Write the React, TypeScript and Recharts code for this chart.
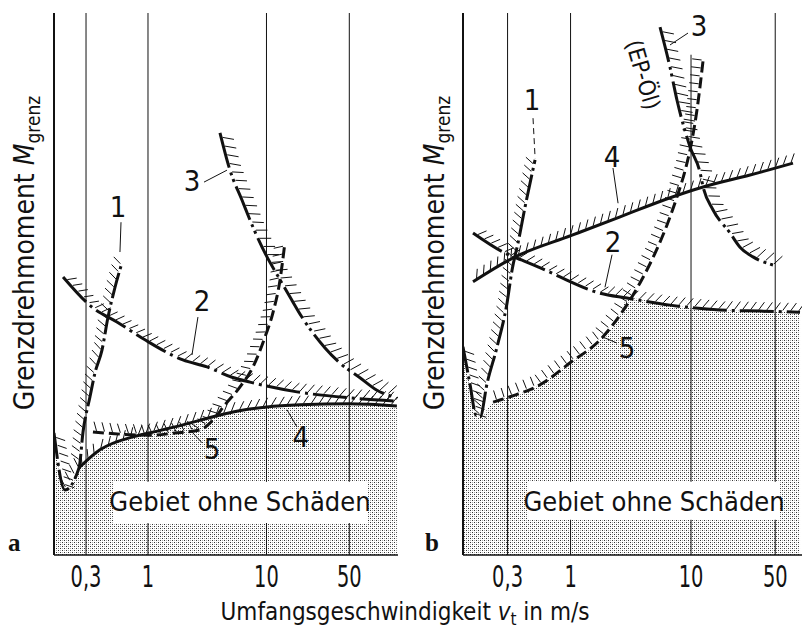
import React from "react";
import {
  ComposedChart,
  Line,
  Area,
  XAxis,
  YAxis,
  ReferenceLine,
  ReferenceArea,
  ReferenceDot,
} from "recharts";

const NARROW = '"Liberation Sans Narrow", "DejaVu Sans Condensed", "Arial Narrow", sans-serif';
const SERIF = '"Liberation Serif", "DejaVu Serif", serif';
const INK = "#111";

type P = { v: number; m: number };
type XY = { x: number; y: number };

// speed axis ticks (m/s), log scale
const speedTicks = [0.3, 1, 10, 50];

// --- Bild a: v_t in m/s, M_grenz in % of axis height ---
const a1: P[] = [
  { v: 0.161, m: 22.5 }, { v: 0.199, m: 12.0 }, { v: 0.262, m: 16.1 }, { v: 0.283, m: 22.7 },
  { v: 0.324, m: 29.2 }, { v: 0.357, m: 33.6 }, { v: 0.409, m: 37.8 }, { v: 0.46, m: 43.9 },
  { v: 0.527, m: 49.4 }, { v: 0.603, m: 53.9 },
];
const a2: P[] = [
  { v: 0.192, m: 51.3 }, { v: 0.343, m: 45.6 }, { v: 0.547, m: 43.0 }, { v: 0.943, m: 39.7 },
  { v: 1.97, m: 36.0 }, { v: 3.15, m: 34.7 }, { v: 5.12, m: 32.8 }, { v: 7.26, m: 31.9 },
  { v: 18.1, m: 30.1 }, { v: 50.6, m: 29.0 }, { v: 126, m: 28.4 },
];
const a3: P[] = [
  { v: 4.05, m: 77.9 }, { v: 4.92, m: 71.0 }, { v: 6.21, m: 65.5 }, { v: 7.69, m: 60.5 },
  { v: 10.1, m: 55.0 }, { v: 12.3, m: 51.7 }, { v: 15.8, m: 47.6 }, { v: 19.9, m: 43.9 },
  { v: 31.2, m: 38.2 }, { v: 41.7, m: 35.4 }, { v: 61.5, m: 32.7 }, { v: 85.6, m: 30.4 },
  { v: 117, m: 29.2 },
];
const a4: P[] = [
  { v: 0.262, m: 16.1 }, { v: 0.393, m: 19.4 }, { v: 0.747, m: 21.8 }, { v: 1.02, m: 22.5 },
  { v: 1.97, m: 24.0 }, { v: 3.54, m: 25.5 }, { v: 5.22, m: 26.4 }, { v: 10.1, m: 27.3 },
  { v: 19.2, m: 27.7 }, { v: 49.7, m: 27.9 }, { v: 126, m: 27.5 },
];
const a5: P[] = [
  { v: 0.343, m: 22.7 }, { v: 0.58, m: 22.3 }, { v: 1.04, m: 22.1 }, { v: 1.69, m: 22.5 },
  { v: 2.75, m: 23.1 }, { v: 3.54, m: 24.9 }, { v: 4.46, m: 27.7 }, { v: 5.98, m: 31.0 },
  { v: 7.69, m: 34.7 }, { v: 9.71, m: 40.2 }, { v: 11.3, m: 44.6 }, { v: 13.0, m: 50.7 },
  { v: 14.3, m: 57.6 },
];

// --- Bild b ---
const b1: P[] = [
  { v: 0.128, m: 38.4 }, { v: 0.1466, m: 31.4 }, { v: 0.164, m: 25.8 }, { v: 0.1774, m: 25.5 },
  { v: 0.203, m: 31.7 }, { v: 0.2455, m: 38.4 }, { v: 0.297, m: 46.5 }, { v: 0.327, m: 52.6 },
  { v: 0.3667, m: 57.6 }, { v: 0.419, m: 64.2 }, { v: 0.5075, m: 72.9 },
];
const b2: P[] = [
  { v: 0.155, m: 59.4 }, { v: 0.286, m: 55.7 }, { v: 0.396, m: 54.4 }, { v: 0.614, m: 52.6 },
  { v: 0.818, m: 51.3 }, { v: 1.76, m: 48.3 }, { v: 2.94, m: 47.4 }, { v: 6.69, m: 46.1 },
  { v: 17.4, m: 45.2 }, { v: 37.4, m: 45.0 }, { v: 80.3, m: 44.8 },
];
const b3: P[] = [
  { v: 5.53, m: 97.4 }, { v: 6.69, m: 90.0 }, { v: 7.65, m: 83.9 }, { v: 9.81, m: 75.3 },
  { v: 11.9, m: 70.5 }, { v: 12.6, m: 67.9 }, { v: 15.2, m: 63.7 }, { v: 21.1, m: 59.4 },
  { v: 25.5, m: 56.8 }, { v: 32.7, m: 55.0 }, { v: 47.9, m: 53.5 },
];
const b4: P[] = [
  { v: 0.155, m: 50.4 }, { v: 0.333, m: 54.8 }, { v: 1.03, m: 59.0 }, { v: 2.58, m: 62.4 },
  { v: 7.09, m: 66.1 }, { v: 12.6, m: 67.9 }, { v: 30.9, m: 70.1 }, { v: 70.2, m: 72.3 },
];
const b5: P[] = [
  { v: 0.2275, m: 28.2 }, { v: 0.3147, m: 29.2 }, { v: 0.558, m: 31.4 }, { v: 1.01, m: 35.6 },
  { v: 1.76, m: 39.7 }, { v: 2.58, m: 44.3 }, { v: 3.77, m: 50.2 }, { v: 5.03, m: 55.7 },
  { v: 6.32, m: 60.9 }, { v: 7.65, m: 66.1 }, { v: 9.09, m: 71.6 }, { v: 10.2, m: 76.6 },
  { v: 11.2, m: 82.1 }, { v: 12.6, m: 91.3 },
];

// "Gebiet ohne Schäden" = below the lower envelope
const shadeA = [...a1.slice(0, 3), ...a4.slice(1)];
const shadeB = [...b1.slice(0, 4), ...b5.slice(0, 6), ...b2.slice(6)];

// curve numbers and leader lines (placement only)
const notesA = [
  { t: "1", v: 0.558, m: 64.2 }, { t: "2", v: 2.86, m: 46.9 }, { t: "3", v: 2.35, m: 69.0 },
  { t: "4", v: 19.5, m: 21.8 }, { t: "5", v: 3.47, m: 19.6 },
];
const leadersA = [
  [0.592, 61.4, 0.58, 55.9], [2.64, 43.9, 2.35, 36.9], [2.97, 68.8, 4.64, 71.0],
  [18.1, 23.6, 14.9, 26.8], [2.86, 20.7, 2.26, 23.1],
];
const notesB = [
  { t: "1", v: 0.479, m: 83.9 }, { t: "2", v: 2.25, m: 57.7 }, { t: "3", v: 11.65, m: 97.6 },
  { t: "4", v: 2.21, m: 73.4 }, { t: "5", v: 2.94, m: 38.2 },
];
const leadersB = [
  [0.488, 80.6, 0.508, 73.2], [2.21, 55.4, 1.93, 49.4], [9.44, 96.3, 6.69, 94.1],
  [2.25, 71.4, 2.48, 64.9], [2.43, 39.1, 1.86, 40.2],
];

const fmt = (v: number) => String(v).replace(".", ",");

function hatchLines(pts: XY[], tilt: number, len: number, step: number) {
  const out: React.ReactElement[] = [];
  const a = (tilt * Math.PI) / 180;
  let carry = step / 2;
  for (let i = 1; i < pts.length; i++) {
    const p0 = pts[i - 1];
    const p1 = pts[i];
    if (!p0 || !p1) continue;
    const dx = p1.x - p0.x;
    const dy = p1.y - p0.y;
    const L = Math.hypot(dx, dy);
    if (L < 0.01) continue;
    const tx = dx / L;
    const ty = dy / L;
    // left of travel direction (= above for a curve running right)
    const vx = ty * Math.cos(a) + tx * Math.sin(a);
    const vy = -tx * Math.cos(a) + ty * Math.sin(a);
    let d = carry;
    while (d < L) {
      const x = p0.x + tx * d;
      const y = p0.y + ty * d;
      out.push(
        <line key={`${i}-${d.toFixed(1)}`} x1={x + vx * 1.5} y1={y + vy * 1.5} x2={x + vx * len} y2={y + vy * len} />
      );
      d += step;
    }
    carry = d - L;
  }
  return out;
}

// dot renderer that draws the hatching once all points are known
const hatch = (count: number, tilt: number, len = 11, step = 8) => {
  const seen: XY[] = [];
  return (props: any) => {
    const { index, cx, cy } = props;
    seen[index] = { x: cx, y: cy };
    if (index !== count - 1) return <g key={`d${index}`} />;
    const pts: XY[] =
      Array.isArray(props.points) && props.points.length === count ? props.points : seen.slice(0, count);
    return (
      <g key="hatch" stroke={INK} strokeWidth={1}>
        {hatchLines(pts, tilt, len, step)}
      </g>
    );
  };
};

type Curve = { data: P[]; dash?: string; tilt: number; len?: number; step?: number };

const YTitle = ({ baseX, letter, letterX }: { baseX: number; letter: string; letterX: number }) => (
  <g>
    <text
      transform={`translate(${baseX},253) rotate(-90)`}
      textAnchor="middle"
      fontFamily={NARROW}
      fontSize={28}
      fill={INK}
    >
      {"Grenzdrehmoment "}
      <tspan fontStyle="italic">M</tspan>
      <tspan fontSize={19} dy={6}>grenz</tspan>
    </text>
    <text x={letterX} y={551} fontFamily={SERIF} fontWeight="bold" fontSize={25} fill={INK}>
      {letter}
    </text>
  </g>
);

const XTitle = () => (
  <text x={405} y={620} textAnchor="middle" fontFamily={NARROW} fontSize={24} fill={INK}>
    {"Umfangsgeschwindigkeit "}
    <tspan fontStyle="italic">v</tspan>
    <tspan fontSize={17} dy={5}>t</tspan>
    <tspan dy={-5}>{" in m/s"}</tspan>
  </text>
);

// tall, condensed tick digits
const SpeedTick = (props: any) => {
  const { x, y, payload } = props;
  return (
    <text
      transform={`translate(${x},${y}) scale(0.72,1)`}
      textAnchor="middle"
      dy="0.71em"
      fontFamily={NARROW}
      fontSize={30}
      fill={INK}
    >
      {fmt(payload.value)}
    </text>
  );
};

const BoxLabel = (props: any) => {
  const vb = props.viewBox || { x: 0, y: 0, width: 0, height: 0 };
  return (
    <text x={vb.x + vb.width / 2} y={vb.y + 29} textAnchor="middle" fontFamily={NARROW} fontSize={27} fill={INK}>
      Gebiet ohne Schäden
    </text>
  );
};

const Note = (props: any) => (
  <text
    x={props.cx}
    y={props.cy}
    transform={props.angle ? `rotate(${props.angle} ${props.cx} ${props.cy})` : undefined}
    textAnchor="middle"
    dominantBaseline="central"
    fontFamily={NARROW}
    fontSize={props.size || 29}
    fill={INK}
  >
    {props.text}
  </text>
);

type PanelProps = {
  id: string;
  left: number;
  right: number;
  yWidth: number;
  domain: [number, number];
  curves: Curve[];
  shade: P[];
  box: [number, number, number, number];
  grid: { v: number; segs: [number, number][] }[];
  notes: { t: string; v: number; m: number }[];
  leaders: number[][];
  dashedLeader?: number;
  letter: string;
  letterX: number;
  titleX: number;
  xTitle?: boolean;
  extra?: React.ReactNode;
};

function Panel(p: PanelProps) {
  return (
    <ComposedChart
      width={804}
      height={632}
      margin={{ top: 13, right: p.right, bottom: 0, left: p.left }}
      style={{ position: "absolute", left: 0, top: 0 }}
    >
      <defs>
        <pattern id={`dots-${p.id}`} width="4" height="4" patternUnits="userSpaceOnUse">
          <rect x="0" y="0" width="1" height="1" fill="#333" />
          <rect x="2" y="2" width="1" height="1" fill="#333" />
          <rect x="2" y="0" width="1" height="1" fill="#aaa" />
          <rect x="0" y="2" width="1" height="1" fill="#aaa" />
        </pattern>
      </defs>
      <XAxis
        dataKey="v"
        type="number"
        scale="log"
        domain={p.domain}
        allowDataOverflow
        ticks={speedTicks}
        interval={0}
        tickLine={false}
        tickSize={0}
        tickMargin={11}
        axisLine={{ stroke: INK, strokeWidth: 1.5 }}
        tick={<SpeedTick />}
        height={77}
        label={p.xTitle ? <XTitle /> : undefined}
      />
      <YAxis
        type="number"
        domain={[0, 100]}
        allowDataOverflow
        tick={false}
        tickLine={false}
        axisLine={{ stroke: INK, strokeWidth: 2 }}
        width={p.yWidth}
        label={<YTitle baseX={p.titleX} letter={p.letter} letterX={p.letterX} />}
      />
      <Area
        data={p.shade}
        dataKey="m"
        type="monotone"
        stroke="none"
        fill={`url(#dots-${p.id})`}
        fillOpacity={1}
        isAnimationActive={false}
        activeDot={false}
      />
      {p.grid.map((g) =>
        g.segs.map(([y0, y1], k) => (
          <ReferenceLine
            key={`g${g.v}-${k}`}
            segment={[{ x: g.v, y: y0 }, { x: g.v, y: y1 }]}
            stroke={INK}
            strokeWidth={1}
          />
        ))
      )}
      <ReferenceArea
        x1={p.box[0]}
        x2={p.box[1]}
        y1={p.box[2]}
        y2={p.box[3]}
        fill="#fff"
        fillOpacity={1}
        stroke="none"
        label={<BoxLabel />}
      />
      {p.curves.map((c, i) => (
        <Line
          key={`c${i}`}
          data={c.data}
          dataKey="m"
          type="monotone"
          stroke={INK}
          strokeWidth={3}
          strokeDasharray={c.dash}
          dot={hatch(c.data.length, c.tilt, c.len, c.step)}
          activeDot={false}
          isAnimationActive={false}
        />
      ))}
      {p.leaders.map((l, i) => (
        <ReferenceLine
          key={`l${i}`}
          segment={[{ x: l[0], y: l[1] }, { x: l[2], y: l[3] }]}
          stroke={INK}
          strokeWidth={1}
          strokeDasharray={p.dashedLeader === i ? "6 4" : undefined}
        />
      ))}
      {p.notes.map((n) => (
        <ReferenceDot
          key={`n${n.t}`}
          x={n.v}
          y={n.m}
          r={0}
          shape={(sp: any) => <Note {...sp} text={n.t} />}
        />
      ))}
      {p.extra}
    </ComposedChart>
  );
}

export default function App() {
  return (
    <div style={{ position: "absolute", left: 0, top: 0, width: 804, height: 632, background: "#fff" }}>
      <Panel
        id="a"
        left={0}
        right={406}
        yWidth={54}
        domain={[0.161, 128.8]}
        shade={shadeA}
        box={[0.507, 70.5, 5.9, 13.5]}
        grid={[
          { v: 0.3, segs: [[0, 100]] },
          { v: 1, segs: [[0, 5.9], [13.5, 100]] },
          { v: 10, segs: [[0, 5.9], [13.5, 100]] },
          { v: 50, segs: [[0, 5.9], [13.5, 100]] },
        ]}
        curves={[
          { data: a1, dash: "26 4 3 4", tilt: 30 },
          { data: a2, dash: "34 5 3 5", tilt: 35 },
          { data: a3, dash: "36 5 3 4 3 5", tilt: 25, len: 13, step: 9 },
          { data: a4, tilt: 35 },
          { data: a5, dash: "11 5", tilt: -20 },
        ]}
        notes={notesA}
        leaders={leadersA}
        letter="a"
        letterX={8}
        titleX={34}
        xTitle
      />
      <Panel
        id="b"
        left={403}
        right={2}
        yWidth={60}
        domain={[0.128, 83.4]}
        shade={shadeB}
        box={[0.444, 54.8, 6.5, 13.5]}
        grid={[
          { v: 0.3, segs: [[0, 100]] },
          { v: 1, segs: [[0, 6.5], [13.5, 100]] },
          { v: 10, segs: [[0, 6.5], [13.5, 92.3]] },
          { v: 50, segs: [[0, 6.5], [13.5, 100]] },
        ]}
        curves={[
          { data: b1, dash: "26 4 3 4", tilt: 30 },
          { data: b2, dash: "34 5 3 5", tilt: 35 },
          { data: b3, dash: "36 5 3 4 3 5", tilt: 25, len: 13, step: 9 },
          { data: b4, tilt: 35 },
          { data: b5, dash: "11 5", tilt: 0 },
        ]}
        notes={notesB}
        leaders={leadersB}
        dashedLeader={0}
        letter="b"
        letterX={425}
        titleX={444}
        extra={
          <ReferenceDot
            x={4.0}
            y={88.6}
            r={0}
            shape={(sp: any) => <Note {...sp} text="(EP-Öl)" angle={74} size={23} />}
          />
        }
      />
    </div>
  );
}
